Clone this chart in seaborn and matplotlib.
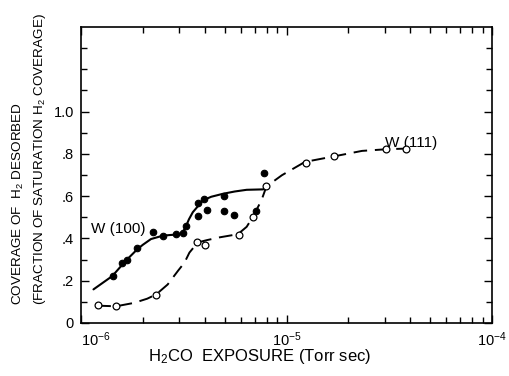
import matplotlib
matplotlib.use("Agg")
import matplotlib.pyplot as plt
import seaborn as sns
import pandas as pd
from matplotlib.ticker import FixedLocator, FixedFormatter, LogLocator, NullFormatter

# ---- data ----
w100_pts_x = [1.43e-6, 1.58e-6, 1.68e-6, 1.88e-6, 2.25e-6, 2.5e-6, 2.9e-6, 3.15e-6, 3.25e-6,
              3.7e-6, 3.73e-6, 3.99e-6, 4.1e-6, 4.96e-6, 4.96e-6, 5.55e-6, 7.1e-6, 7.79e-6]
w100_pts_y = [0.222, 0.282, 0.297, 0.354, 0.432, 0.41, 0.42, 0.425, 0.46,
              0.567, 0.505, 0.586, 0.535, 0.60, 0.529, 0.513, 0.532, 0.71]

w111_pts_x = [1.21e-6, 1.48e-6, 2.32e-6, 3.66e-6, 4.03e-6, 5.86e-6, 6.86e-6, 7.91e-6,
              1.245e-5, 1.71e-5, 3.05e-5, 3.8e-5]
w111_pts_y = [0.084, 0.079, 0.133, 0.384, 0.37, 0.418, 0.503, 0.646,
              0.759, 0.789, 0.822, 0.825]

w100_curve_x = [1.15e-6, 1.42e-6, 1.65e-6, 1.88e-6, 2.0e-6, 2.19e-6, 2.5e-6, 2.7e-6, 2.9e-6,
                3.05e-6, 3.13e-6, 3.25e-6, 3.35e-6, 3.5e-6, 3.92e-6, 4.3e-6, 4.9e-6, 5.6e-6,
                6.4e-6, 7.7e-6, 7.93e-6]
w100_curve_y = [0.159, 0.222, 0.294, 0.349, 0.370, 0.397, 0.413, 0.416, 0.418,
                0.421, 0.429, 0.46, 0.49, 0.524, 0.58, 0.597, 0.611, 0.622,
                0.63, 0.632, 0.643]

w111_curve_x = [1.2e-6, 1.48e-6, 1.81e-6, 2.1e-6, 2.32e-6, 2.64e-6, 2.96e-6, 3.19e-6, 3.37e-6,
                3.7e-6, 4.1e-6, 4.72e-6, 5.8e-6, 6.4e-6, 6.87e-6, 7.55e-6, 7.99e-6, 9.5e-6,
                1.23e-5, 1.72e-5, 2.33e-5, 3.08e-5, 3.86e-5]
w111_curve_y = [0.082, 0.079, 0.095, 0.115, 0.135, 0.182, 0.246, 0.286, 0.333,
                0.381, 0.392, 0.405, 0.42, 0.455, 0.503, 0.58, 0.646, 0.699,
                0.762, 0.789, 0.814, 0.822, 0.825]

ytick_vals = [0, 0.2, 0.4, 0.6, 0.8, 1.0]
ytick_labels = ["0", ".2", ".4", ".6", ".8", "1.0"]

# ---- plotting ----
sns.set_theme(style="ticks")
plt.rcParams["font.family"] = ["Liberation Sans", "DejaVu Sans"]
plt.rcParams["mathtext.fontset"] = "custom"
plt.rcParams["mathtext.rm"] = "Liberation Sans"
plt.rcParams["mathtext.it"] = "Liberation Sans"

fig = plt.figure(figsize=(5.10, 3.76), dpi=100)
ax = fig.add_axes([81 / 510, 1 - 323 / 376, (492 - 81) / 510, (323 - 27) / 376])

c100 = pd.DataFrame({"x": w100_curve_x, "y": w100_curve_y})
c111 = pd.DataFrame({"x": w111_curve_x, "y": w111_curve_y})
p100 = pd.DataFrame({"x": w100_pts_x, "y": w100_pts_y})
p111 = pd.DataFrame({"x": w111_pts_x, "y": w111_pts_y})

sns.lineplot(data=c111, x="x", y="y", ax=ax, sort=False, estimator=None, color="black",
             linewidth=1.4, dashes=False, zorder=2)
ax.lines[-1].set_dashes([7, 4])
sns.lineplot(data=c100, x="x", y="y", ax=ax, sort=False, estimator=None, color="black",
             linewidth=1.5, zorder=2)
sns.scatterplot(data=p100, x="x", y="y", ax=ax, color="black", edgecolor="black",
                s=22, marker="o", zorder=3, linewidth=0.8)
sns.scatterplot(data=p111, x="x", y="y", ax=ax, facecolor="white", edgecolor="black",
                s=24, marker="o", zorder=4, linewidth=0.9)

ax.set_xscale("log")
ax.set_xlim(1e-6, 1e-4)
ax.set_ylim(0, 1.40)

ax.xaxis.set_minor_locator(LogLocator(base=10, subs=range(2, 10), numticks=20))
ax.xaxis.set_minor_formatter(NullFormatter())
ax.set_xticks([1e-6, 1e-5, 1e-4])
ax.set_xticklabels([r"10$^{-6}$", r"10$^{-5}$", r"10$^{-4}$"])

ax.yaxis.set_major_locator(FixedLocator(ytick_vals))
ax.yaxis.set_major_formatter(FixedFormatter(ytick_labels))
ax.yaxis.set_minor_locator(FixedLocator([0.1, 0.3, 0.5, 0.7, 0.9, 1.1, 1.2, 1.3]))

for s in ax.spines.values():
    s.set_visible(True)
    s.set_linewidth(1.2)
    s.set_color("black")

ax.tick_params(which="both", direction="in", top=True, right=True, colors="black",
               labelsize=10.5, width=1.0)
ax.tick_params(which="major", length=6, pad=5)
ax.tick_params(which="minor", length=4)
ax.set_xlabel("")
ax.set_ylabel("")

xlabels = ax.get_xticklabels()
xlabels[0].set_horizontalalignment("left")

ax.text(1.12e-6, 0.445, "W (100)", fontsize=11, ha="left", va="center", color="black")
ax.text(3.0e-5, 0.85, "W (111)", fontsize=11, ha="left", va="center", color="black")

fig.text(18 / 510, 1 - 305 / 376, r"COVERAGE OF  H$_2$ DESORBED", rotation=90,
         ha="center", va="bottom", fontsize=9.7, color="black")
fig.text(40 / 510, 1 - 305 / 376, r"(FRACTION OF SATURATION H$_2$ COVERAGE)", rotation=90,
         ha="center", va="bottom", fontsize=9.7, color="black")
fig.text(148 / 510, 1 - 357 / 376, r"H$_2$CO  EXPOSURE (Torr sec)", ha="left", va="center",
         fontsize=12, color="black")

fig.savefig("out.png", dpi=100, facecolor="white")
